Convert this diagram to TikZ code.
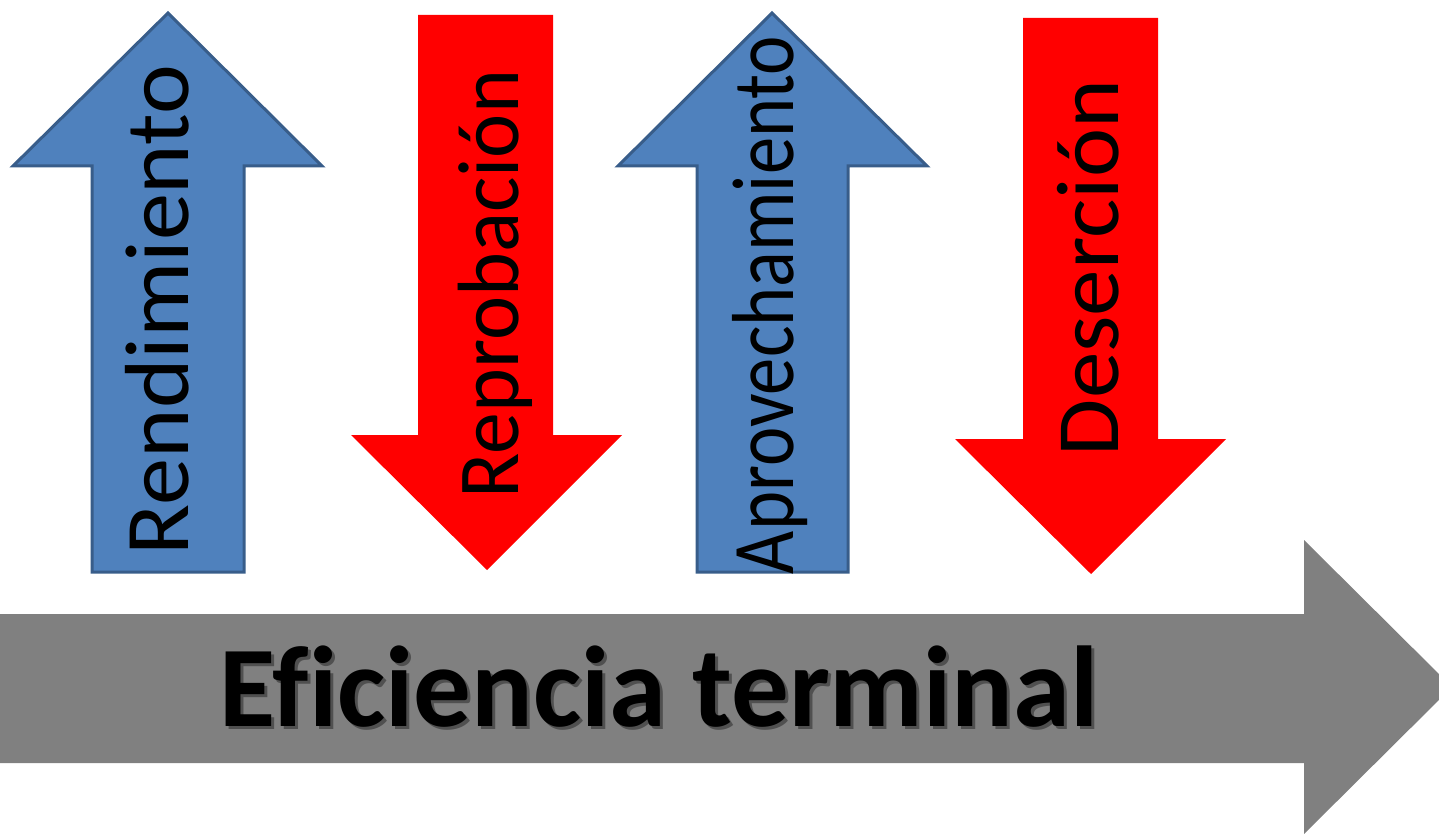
\documentclass[tikz,border=0pt]{standalone}
\usepackage{fontspec}
\setmainfont{Carlito}[Ligatures=NoCommon]
\usepackage{graphicx}
\definecolor{bluefill}{HTML}{4F81BD}
\definecolor{blueline}{HTML}{385D8A}
\definecolor{grayfill}{HTML}{808080}
\definecolor{shadowgray}{HTML}{505050}
\newcommand{\shadowtext}[1]{\rlap{\kern3pt\raisebox{-3pt}{\textcolor{shadowgray}{#1}}}#1}
\tikzset{
  uparrow/.style={fill=bluefill, draw=blueline, line width=3pt, line join=miter},
  downarrow/.style={fill=red},
  bigarrow/.style={fill=grayfill},
  vlabel/.style={rotate=90, anchor=base west, inner sep=0pt, outer sep=0pt, text=black},
  hlabel/.style={anchor=base, inner sep=0pt, outer sep=0pt, font=\bfseries\fontsize{115}{115}\selectfont}
}
\begin{document}
\begin{tikzpicture}[x=1pt,y=-1pt]
\useasboundingbox (0,0) rectangle (1439,834);
\clip (0,0) rectangle (1439,834);
% blue up arrows
\draw[uparrow] (168,13) -- (322,166) -- (244,166) -- (244,572) -- (92,572) -- (92,166) -- (13,166) -- cycle;
\draw[uparrow] (772,13) -- (927,166) -- (848,166) -- (848,572) -- (697,572) -- (697,166) -- (618,166) -- cycle;
% red down arrows
\fill[downarrow] (418,15) -- (553,15) -- (553,435) -- (622,435) -- (487,570) -- (351,435) -- (418,435) -- cycle;
\fill[downarrow] (1023,18) -- (1158,18) -- (1158,439) -- (1226,439) -- (1091,574) -- (955,439) -- (1023,439) -- cycle;
% gray arrow
\fill[bigarrow] (-10,614) -- (1304,614) -- (1304,540) -- (1452,687) -- (1304,834) -- (1304,763) -- (-10,763) -- cycle;
% labels
\node[vlabel] (rend) at (188,555) {\resizebox{490pt}{\height}{\fontsize{91}{91}\selectfont Rendimiento}};
\node[vlabel] (repr) at (518,498) {\resizebox{428pt}{\height}{\fontsize{87}{87}\selectfont Reprobación}};
\node[vlabel] (apro) at (793,574) {\resizebox{538pt}{\height}{\fontsize{88}{88}\selectfont Aprovechamiento}};
\node[vlabel] (dese) at (1118,456) {\resizebox{376pt}{\height}{\fontsize{89}{89}\selectfont Deserción}};
% main label with shadow
\node[hlabel, text=black] (efic) at (659,726) {\shadowtext{Eficiencia terminal}};
\end{tikzpicture}
\end{document}
